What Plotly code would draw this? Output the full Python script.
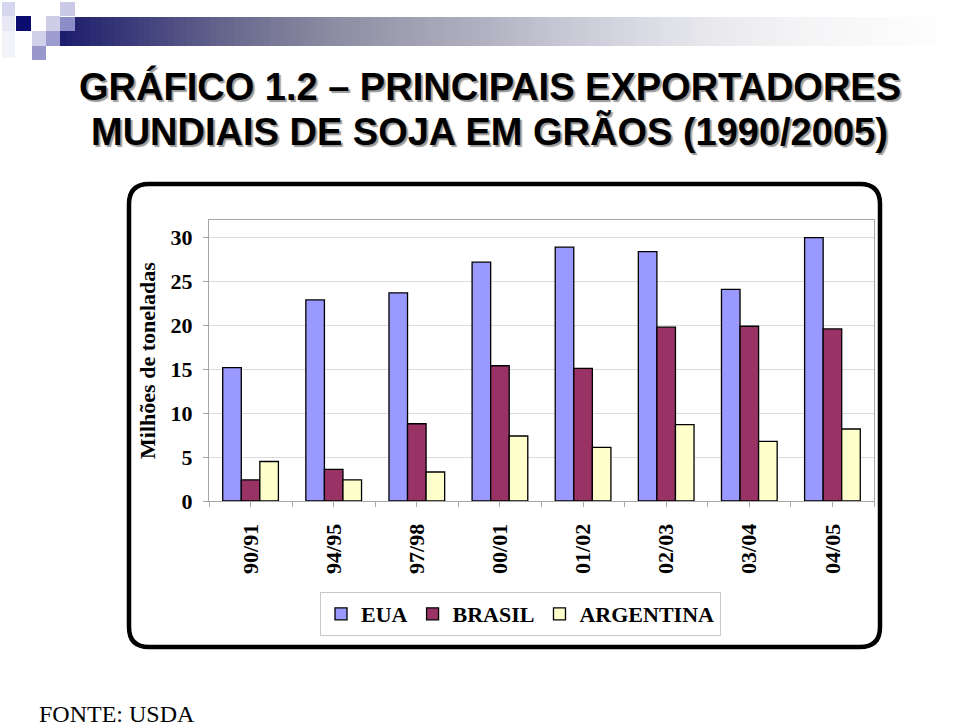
import plotly.graph_objects as go

# ---------------- data ----------------
categories = ["90/91", "94/95", "97/98", "00/01", "01/02", "02/03", "03/04", "04/05"]
eua = [15.2, 22.9, 23.7, 27.2, 28.9, 28.4, 24.1, 30.0]
brasil = [2.4, 3.6, 8.8, 15.4, 15.1, 19.8, 19.9, 19.6]
argentina = [4.5, 2.4, 3.3, 7.4, 6.1, 8.7, 6.8, 8.2]
series_names = ["EUA", "BRASIL", "ARGENTINA"]
series_colors = ["#9999FF", "#993366", "#FFFFCC"]

title_line1 = "GRÁFICO 1.2 – PRINCIPAIS EXPORTADORES"
title_line2 = "MUNDIAIS DE SOJA EM GRÃOS (1990/2005)"
y_title = "Milhões de toneladas"
source_text = "FONTE: USDA"

# ---------------- layout geometry (pixels) ----------------
W, H = 960, 728
PL, PR, PT, PB = 209, 874, 220, 501  # plot area box


def px(x, y):
    """pixel -> paper coordinates"""
    return (x - PL) / (PR - PL), (PB - y) / (PB - PT)


SERIF = "Times New Roman, Liberation Serif, serif"
SANS = "Arial, Liberation Sans, sans-serif"

idx = list(range(len(categories)))

fig = go.Figure()
for name, vals, col in zip(series_names, [eua, brasil, argentina], series_colors):
    fig.add_trace(go.Bar(
        x=idx, y=vals, name=name,
        marker=dict(color=col, line=dict(color="#000000", width=1.3)),
    ))

shapes = []

# ---- decorative header: squares + gradient bar ----
def rect(x0, y0, x1, y1, color):
    a0, b0 = px(x0, y0)
    a1, b1 = px(x1, y1)
    shapes.append(dict(type="rect", xref="paper", yref="paper", x0=a0, y0=b0, x1=a1, y1=b1,
                       fillcolor=color, line=dict(width=0), layer="above"))

stops = [(60, (28, 28, 108)), (160, (72, 72, 128)), (240, (108, 108, 144)), (320, (136, 136, 160)),
         (400, (158, 158, 176)), (480, (176, 176, 192)), (560, (198, 198, 212)), (640, (218, 218, 228)),
         (720, (234, 234, 238)), (800, (244, 244, 246)), (880, (250, 250, 251)), (960, (255, 255, 255))]


def grad(x):
    for (xa, ca), (xb, cb) in zip(stops[:-1], stops[1:]):
        if xa <= x <= xb:
            t = (x - xa) / (xb - xa)
            return tuple(int(round(ca[i] + (cb[i] - ca[i]) * t)) for i in range(3))
    return stops[-1][1]

step = 6
x = 60
while x < 960:
    c = grad(x + step / 2)
    rect(x, 17, min(x + step + 0.6, 960), 46, "rgb(%d,%d,%d)" % c)
    x += step

rect(2, 2, 15, 16, "#d6d6ee")
rect(2, 16, 15, 31, "#e8e8f5")
rect(2, 31, 15, 58, "#f3f3fa")
rect(16, 16, 31, 31, "#0c0c70")
rect(32, 31, 46, 46, "#d0d0ea")
rect(32, 46, 46, 60, "#9898cc")
rect(46, 16, 60, 31, "#cdcde8")
rect(46, 31, 60, 46, "#9c9cd0")
rect(60, 2, 75, 16, "#cacae6")
rect(60, 17, 75, 31, "#8c8cc8")

# ---- rounded outer frame ----
X0, Y0, X1, Y1, R = 129, 184, 880, 647, 20


def P(x, y):
    a, b = px(x, y)
    return "%.5f,%.5f" % (a, b)

path = ("M " + P(X0 + R, Y0) + " L " + P(X1 - R, Y0) + " Q " + P(X1, Y0) + " " + P(X1, Y0 + R) +
        " L " + P(X1, Y1 - R) + " Q " + P(X1, Y1) + " " + P(X1 - R, Y1) +
        " L " + P(X0 + R, Y1) + " Q " + P(X0, Y1) + " " + P(X0, Y1 - R) +
        " L " + P(X0, Y0 + R) + " Q " + P(X0, Y0) + " " + P(X0 + R, Y0) + " Z")
shapes.append(dict(type="path", xref="paper", yref="paper", path=path,
                   line=dict(color="#000000", width=4.5), layer="below"))

annotations = []


def ann(text, x, y, size, family, color, xanchor="center", yanchor="middle", bold=False, shadow=None):
    a, b = px(x, y)
    font = dict(size=size, family=family, color=color)
    if shadow:
        font["shadow"] = shadow
    annotations.append(dict(text=("<b>%s</b>" % text) if bold else text, x=a, y=b,
                            xref="paper", yref="paper", showarrow=False,
                            xanchor=xanchor, yanchor=yanchor, font=font))

# title with drop shadow
for (t, cy) in [(title_line1, 86), (title_line2, 132)]:
    ann(t, 489.5, cy, 38, SANS, "#000000", bold=True, shadow="2px 2px 1px #9a9a9a")

ann(source_text, 37, 729, 24, SERIF, "#000000", xanchor="left", yanchor="bottom")

lx, ly = px(520.5, 614)

fig.update_layout(
    width=W, height=H,
    margin=dict(l=PL, r=W - PR, t=PT, b=H - PB, pad=0),
    paper_bgcolor="white", plot_bgcolor="white",
    barmode="group", bargap=0.33, bargroupgap=0,
    showlegend=True,
    legend=dict(orientation="h", x=lx, y=ly, xanchor="center", yanchor="middle",
                bordercolor="#c8c8c8", borderwidth=1, bgcolor="white",
                font=dict(family=SERIF, size=22, color="#000000", weight="bold"),
                traceorder="normal", itemclick=False),
    shapes=shapes,
    annotations=annotations,
    xaxis=dict(
        range=[-0.5, len(categories) - 0.5],
        tickmode="array", tickvals=idx, ticktext=categories,
        tickangle=-90,
        tickfont=dict(family=SERIF, size=22, color="#000000", weight="bold"),
        ticks="outside", ticklen=5, tickcolor="#a6a6a6", tickwidth=1,
        ticklabelstandoff=8,
        minor=dict(tick0=0.5, dtick=1, ticks="outside", ticklen=5, tickcolor="#a6a6a6", tickwidth=1, showgrid=False),
        showgrid=False, zeroline=False,
        showline=True, linecolor="#a6a6a6", linewidth=1, mirror=True,
    ),
    yaxis=dict(
        range=[0, 32], tick0=0, dtick=5,
        tickfont=dict(family=SERIF, size=22, color="#000000", weight="bold"),
        ticks="outside", ticklen=5, tickcolor="#a6a6a6",
        ticklabelstandoff=6,
        showgrid=True, gridcolor="#dcdcdc", gridwidth=1,
        zeroline=False,
        showline=True, linecolor="#a6a6a6", linewidth=1, mirror=True,
        title=dict(text=y_title, standoff=8,
                   font=dict(family=SERIF, size=22, color="#000000", weight="bold")),
    ),
)

fig.write_html("out.html")
